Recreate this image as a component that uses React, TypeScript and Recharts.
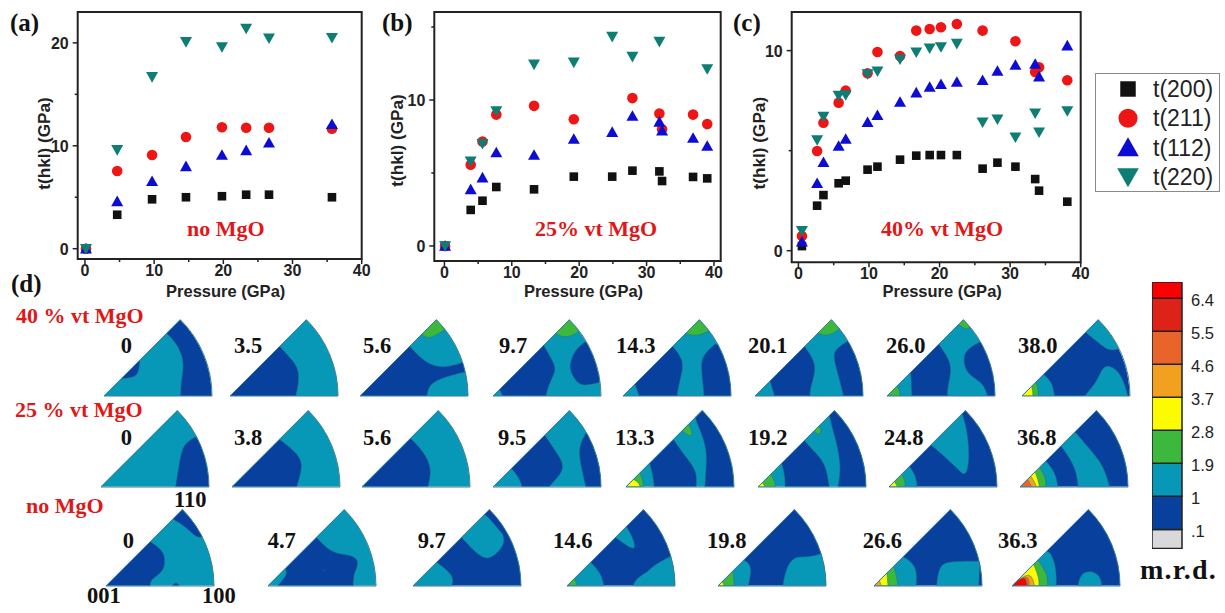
import React from "react";
import {
  ScatterChart, Scatter, XAxis, YAxis, ReferenceArea, Legend, PieChart, Pie, BarChart, Bar,
} from "recharts";

// ---------- panel data ----------
const seriesNames = ["t(200)", "t(211)", "t(112)", "t(220)"];
const pressureA = [0.15, 4.66, 9.7, 14.6, 19.8, 23.3, 26.6, 35.7];
const a200 = [0, 3.3, 4.8, 5.0, 5.1, 5.25, 5.25, 5.0];
const a211 = [0, 7.55, 9.1, 10.85, 11.8, 11.76, 11.76, 11.66];
const a112 = [0, 4.6, 6.55, 8.0, 9.1, 9.55, 10.3, 12.1];
const a220 = [0, 9.6, 16.7, 20.1, 19.6, 21.4, 20.45, 20.5];

const pressureB = [0.1, 3.9, 5.65, 7.7, 13.3, 19.2, 24.9, 27.9, 31.9, 32.3, 36.9, 39];
const b200 = [0, 2.47, 3.1, 4.04, 3.88, 4.75, 4.75, 5.16, 5.11, 4.45, 4.73, 4.63];
const b211 = [0, 5.57, 7.15, 9.0, 9.6, 8.68, null, 10.13, 9.08, 8.0, 9.0, 8.35];
const b112 = [0, 3.88, 4.68, 6.4, 6.23, 7.33, 7.8, 8.9, 8.5, 7.9, 7.4, 6.85];
const b220 = [0, 5.8, 7.0, 9.25, 12.44, 12.58, 14.34, 12.97, 14.0, null, null, 12.12];

const pressureC = [0.5, 2.65, 3.55, 5.7, 6.7, 9.8, 11.2, 14.4, 16.7, 18.6, 20.2, 22.45, 26.1, 28.2, 30.75, 33.55, 34.1, 38.1];
const c200 = [0.23, 2.25, 2.78, 3.37, 3.5, 4.05, 4.2, 4.55, 4.75, 4.78, 4.78, 4.78, 4.1, 4.4, 4.2, 3.58, 3.0, 2.45];
const c211 = [0.73, 4.98, 6.4, 7.4, 8.0, 8.87, 9.93, 9.73, 11.0, 11.08, 11.17, 11.33, 11.0, null, 10.47, 8.93, 9.17, 8.52];
const c112 = [0.45, 3.37, 4.42, 5.23, 5.58, 6.42, 6.77, 7.43, 7.9, 8.18, 8.32, 8.43, 8.52, 8.98, 9.28, 9.33, 8.7, 10.25];
const c220 = [1.0, 5.53, 6.7, 7.75, 7.78, 8.83, 8.97, 9.57, 9.92, 10.12, 10.18, 10.35, 6.42, 6.57, 5.67, 6.87, 5.92, 6.98];

// ---------- colour scale ----------
const D = "#07419d", L = "#0798b8", G = "#3cb83c", Y = "#fdfb00", O = "#f2a01f", E = "#e9642a", C = "#dd2318", R = "#fb0000", N = "#d9d9d9";
const scaleColors = [N, D, L, G, Y, O, E, C, R];
const scaleBands = [0.52, 0.9, 0.9, 0.9, 0.9, 0.9, 0.9, 0.9, 0.44];
const scaleTicks = [0.52, 1.42, 2.32, 3.22, 4.12, 5.02, 5.92, 6.82];
const scaleLabels = [".1", "1", "1.9", "2.8", "3.7", "4.6", "5.5", "6.4"];

// ---------- pole figures: [pressure, base colour, [colour, x,y, x,y ...] ...] (in % of radius) ----------
type Fig = { p: string; base: string; regions: (string | number)[][] };
const row40: Fig[] = [
  { p: "0", base: L, regions: [[D, 58,58, 66,50, 72,39, 74,27, 71,11, 71,0, 100,0, 100,75, 58,75], [D, 16,16, 25,17, 31,19, 33,28, 33,33]] },
  { p: "3.5", base: L, regions: [[D, 0,0, 46,46, 55,36, 63,27, 64,14, 61,0]] },
  { p: "5.6", base: L, regions: [[D, 0,0, 46,46, 68,23, 95,31, 100,30, 100,23, 69,15, 63,7, 62,0], [G, 57,57, 63,53, 70,56, 78,61, 78,75, 57,75]] },
  { p: "9.7", base: L, regions: [[D, 6,6, 47,47, 55,33, 59,24, 52,12, 49,0, 9,0], [D, 85,50, 75,42, 70,27, 74,18, 81,8, 100,13, 100,50], [G, 58,58, 67,53, 79,59, 79,75, 58,75]] },
  { p: "14.3", base: L, regions: [[D, 11,11, 46,46, 54,36, 56,27, 52,12, 50,0, 15,0], [D, 85,48, 74,38, 72,28, 74,12, 75,0, 100,0, 100,48], [G, 58,58, 68,55, 79,60, 79,75, 58,75]] },
  { p: "20.1", base: L, regions: [[D, 14,14, 46,46, 55,33, 56,22, 51,7, 51,0, 18,0], [D, 86,51, 75,44, 72,37, 77,20, 82,0, 100,0, 100,51], [G, 58,58, 68,55, 78,62, 78,75, 58,75]] },
  { p: "26.0", base: L, regions: [[D, 22,22, 48,48, 57,35, 60,24, 56,8, 56,0, 23,0], [G, 0,0, 9,9, 12,5, 12,0], [D, 86,50, 75,44, 70,36, 73,22, 82,16, 90,10, 93,0, 100,0, 100,50], [G, 66,66, 73,62, 78,64, 78,75, 66,75]] },
  { p: "38.0", base: D, regions: [[L, 59,59, 70,50, 81,41, 90,44, 90,75, 59,75], [L, 58,0, 70,14, 74,26, 81,29, 92,21, 98,0], [L, 0,0, 20,20, 28,13, 30,0], [G, 0,0, 13,13, 15,7, 15,0], [Y, 0,0, 9,9, 10,4, 10,0]] },
];
const row25: Fig[] = [
  { p: "0", base: L, regions: [[D, 87,46, 76,40, 73,25, 69,0, 100,0, 100,46]] },
  { p: "3.8", base: L, regions: [[D, 0,0, 44,44, 56,35, 65,25, 64,14, 60,0]] },
  { p: "5.6", base: L, regions: [[D, 0,0, 45,45, 57,33, 65,17, 61,0]] },
  { p: "9.5", base: L, regions: [[D, 17,17, 48,48, 58,33, 68,18, 56,5, 52,0, 27,0, 24,9], [D, 86,50, 79,37, 81,21, 86,0, 100,0, 100,50]] },
  { p: "13.3", base: L, regions: [[D, 22,22, 44,44, 55,28, 66,15, 65,0, 26,0, 25,10], [D, 63,65, 70,50, 75,33, 74,15, 73,0, 100,0, 100,75, 63,75], [G, 52,52, 60,46, 62,50, 58,58], [G, 0,0, 13,13, 16,5, 16,0], [Y, 0,0, 7,7, 12,4, 13,0]] },
  { p: "19.2", base: L, regions: [[D, 22,22, 43,43, 55,30, 63,20, 66,0, 25,0, 25,10], [D, 66,66, 70,50, 73,40, 77,18, 74,0, 100,0, 100,75, 66,75], [G, 52,52, 57,47, 59,54, 56,56], [G, 0,0, 12,12, 16,4, 16,0], [Y, 0,0, 4,4, 7,0]] },
  { p: "24.8", base: D, regions: [[L, 39,39, 64,17, 71,8, 75,27, 72,55, 67,70, 50,70, 39,50], [L, 0,0, 19,19, 25,10, 26,0], [G, 0,0, 12,12, 15,5, 15,0], [Y, 0,0, 5,5, 8,0]] },
  { p: "36.8", base: D, regions: [[L, 38,38, 51,51, 62,38, 77,21, 83,0, 54,0, 52,15, 46,27], [L, 0,0, 24,24, 33,13, 35,0], [G, 0,0, 18,18, 24,9, 24,0], [Y, 0,0, 14,14, 17,6, 18,0], [O, 0,0, 10,10, 14,4, 15,0], [E, 0,0, 7,7, 11,0]] },
];
const rowNone: Fig[] = [
  { p: "0", base: L, regions: [[D, 0,0, 41,41, 53,33, 55,23, 53,13, 41,6, 41,0], [D, 62,62, 75,54, 84,44, 90,46, 90,75, 62,75], [D, 61,0, 65,4, 68,0]] },
  { p: "4.7", base: L, regions: [[D, 16,16, 45,45, 57,32, 70,29, 79,28, 85,22, 79,11, 79,0, 9,0, 12,4, 18,11], [L, 51,14, 53,14, 52,15]] },
  { p: "9.7", base: D, regions: [[L, 0,0, 22,22, 38,10, 36,0], [L, 45,45, 65,23, 75,28, 80,33, 85,40, 83,48, 76,56, 69,65, 60,70, 45,60], [G, 0,0, 2,2, 3,0]] },
  { p: "14.6", base: D, regions: [[L, 45,45, 65,30, 61,45, 55,55], [L, 0,0, 22,22, 32,11, 34,0], [G, 0,0, 7,7, 10,0], [L, 61,0, 65,8, 75,13, 80,19, 95,27, 100,27, 100,0]] },
  { p: "19.8", base: D, regions: [[L, 0,0, 24,24, 32,19, 28,0], [G, 0,0, 14,14, 15,0], [Y, 0,0, 4,4, 6,0], [L, 60,0, 63,17, 71,28, 82,26, 96,30, 100,30, 100,0]] },
  { p: "26.6", base: D, regions: [[L, 0,0, 27,27, 40,19, 39,0], [G, 0,0, 18,18, 21,10, 22,0], [Y, 0,0, 12,12, 13,0], [O, 0,0, 5,5, 7,0], [L, 58,0, 60,18, 68,23, 98,23, 97,0]] },
  { p: "36.3", base: D, regions: [[L, 0,0, 32,32, 36,31, 41,17, 41,0], [G, 0,0, 24,24, 33,11, 33,0], [Y, 0,0, 20,20, 25,8, 25,0], [O, 0,0, 17,15, 21,0], [E, 0,0, 15,12, 16,0], [R, 0,0, 12,11, 14,0], [L, 61,0, 64,13, 76,14, 82,8, 83,0]] },
];

// ---------- layout ----------
const R_POLE = 108;
const H_POLE = 81;
const rows = [
  { figs: row40, baseY: 396, apex: [103.5, 230, 360, 492.7, 623, 755, 887, 1021.5], textY: 353, textX: [120.7, 234, 363, 499, 616, 748, 886, 1018] },
  { figs: row25, baseY: 486.5, apex: [100.7, 231.7, 361.7, 493, 625.7, 758, 889, 1020], textY: 445, textX: [120.7, 234, 363, 498, 615, 748, 884, 1017] },
  { figs: rowNone, baseY: 585.5, apex: [106, 267.7, 413, 567, 718, 874, 1012], textY: 548, textX: [122.7, 267.7, 417.7, 553, 707, 862.7, 998] },
];
const markerColors = ["#111111", "#ee1515", "#0c0cd2", "#0e7d74"];

const serif = "'Liberation Serif', serif";
const sans = "'Liberation Sans', sans-serif";

const toPoints = (xs: number[], ys: (number | null)[]) =>
  xs.map((x, i) => ({ x, y: ys[i] })).filter((d) => d.y !== null);

function Mark({ kind, cx, cy, fill, s = 1 }: any) {
  if (kind === 0) return <rect x={cx - 4.3 * s} y={cy - 4.3 * s} width={8.6 * s} height={8.6 * s} fill={fill} />;
  if (kind === 1) return <circle cx={cx} cy={cy} r={5.3 * s} fill={fill} />;
  if (kind === 2) return <polygon points={`${cx - 6 * s},${cy + 4.8 * s} ${cx + 6 * s},${cy + 4.8 * s} ${cx},${cy - 5.8 * s}`} fill={fill} />;
  return <polygon points={`${cx - 6 * s},${cy - 4.8 * s} ${cx + 6 * s},${cy - 4.8 * s} ${cx},${cy + 5.8 * s}`} fill={fill} />;
}

function XTick({ x, y, payload }: any) {
  const major = payload.value % 10 === 0;
  return (
    <g>
      <line x1={x} x2={x} y1={y} y2={y + (major ? 5 : 3)} stroke="#222" strokeWidth={1.5} />
      {major && (
        <text x={x} y={y + 17} textAnchor="middle" fontFamily={sans} fontWeight="bold" fontSize={16} fill="#222">
          {payload.value}
        </text>
      )}
    </g>
  );
}
function YTick({ x, y, payload }: any) {
  const major = payload.value % 10 === 0;
  return (
    <g>
      <line x1={x - (major ? 5 : 3)} x2={x} y1={y} y2={y} stroke="#222" strokeWidth={1.5} />
      {major && (
        <text x={x - 9} y={y + 6} textAnchor="end" fontFamily={sans} fontWeight="bold" fontSize={16} fill="#222">
          {payload.value}
        </text>
      )}
    </g>
  );
}

function LegendBox({ payload }: any) {
  return (
    <div style={{ width: 125, height: 119, border: "1.5px solid #8a8a8a", boxSizing: "border-box", background: "#fff" }}>
      <svg width={122} height={116}>
        {(payload || []).map((e: any, i: number) => (
          <g key={e.value}>
            <Mark kind={i} cx={32} cy={15 + i * 29.3} fill={e.color} s={1.8} />
            <text x={57} y={23 + i * 29.3} fontFamily={sans} fontSize={23} fill="#222">{e.value}</text>
          </g>
        ))}
      </svg>
    </div>
  );
}

function Panel({ left, width, frame, xDomain, yDomain, yTicks, xs, series, xLabelDx, yLabelDy, yLabelOff, legend }: any) {
  const xTicks = [0, 5, 10, 15, 20, 25, 30, 35, 40];
  return (
    <div style={{ position: "absolute", left, top: 0 }}>
      <ScatterChart width={width} height={300} margin={{ top: frame.top, right: width - frame.right, bottom: 0, left: 0 }}>
        <XAxis
          type="number" dataKey="x" domain={xDomain} ticks={xTicks} interval={0} height={300 - frame.bottom}
          tickLine={false} axisLine={false} tickSize={0} tickMargin={0} tick={<XTick />}
          label={{ value: "Pressure (GPa)", position: "insideBottom", offset: 3, dx: xLabelDx, fontFamily: sans, fontWeight: "bold", fontSize: 16.5, fill: "#222" }}
        />
        <YAxis
          type="number" dataKey="y" domain={yDomain} ticks={yTicks} interval={0} width={frame.left}
          tickLine={false} axisLine={false} tickSize={0} tickMargin={0} tick={<YTick />}
          label={{ value: "t(hkl) (GPa)", angle: -90, position: "insideLeft", offset: yLabelOff, dy: yLabelDy, fontFamily: sans, fontWeight: "bold", fontSize: 17.2, fill: "#222", textAnchor: "middle" }}
        />
        <ReferenceArea x1={xDomain[0]} x2={xDomain[1]} y1={yDomain[0]} y2={yDomain[1]} fill="none" stroke="#222" strokeWidth={2} fillOpacity={0} ifOverflow="visible" />
        {series.map((ys: (number | null)[], i: number) => (
          <Scatter
            key={seriesNames[i]} name={seriesNames[i]} data={toPoints(xs, ys)} fill={markerColors[i]} isAnimationActive={false}
            shape={(p: any) => <Mark kind={i} cx={p.cx} cy={p.cy} fill={markerColors[i]} />}
          />
        ))}
        {legend && (
          <Legend layout="vertical" align="center" verticalAlign="middle" itemSorter={null} content={<LegendBox />}
            wrapperStyle={{ left: 350, top: 72.5, width: 125, height: 119 }} />
        )}
      </ScatterChart>
    </div>
  );
}

const Nothing = () => <g />;

// The smooth closed contour passes exactly through a vertex only if it is repeated: vertices on the wedge's edges stay sharp.
const onEdge = (x: number, y: number) => y === 0 || x === y || x === 100 || y === 75 || x * x + y * y >= 9000;

function Pole({ fig, x, baseY }: { fig: Fig; x: number; baseY: number }) {
  const Rp = R_POLE, H = H_POLE, k = Rp * Math.SQRT1_2;
  const clip = `path("M0 ${H} L${Rp} ${H} A${Rp} ${Rp} 0 0 0 ${k} ${H - k} Z")`;
  const polys = [[fig.base, 0,0, 100,0, 100,75, 0,75], ...fig.regions];
  return (
    <>
      <div style={{ position: "absolute", left: x, top: baseY - H, width: Rp, height: H, clipPath: clip }}>
        <ScatterChart width={Rp} height={H} margin={{ top: 0, right: 0, bottom: 0, left: 0 }}>
          <XAxis type="number" dataKey="x" domain={[0, 100]} hide />
          <YAxis type="number" dataKey="y" domain={[0, 75]} hide />
          {polys.map((r, i) => {
            const pts: { x: number; y: number }[] = [];
            for (let j = 1; j < r.length; j += 2) {
              const px = r[j] as number, py = r[j + 1] as number;
              const times = onEdge(px, py) ? 3 : 1;
              for (let t = 0; t < times; t++) pts.push({ x: px, y: py });
            }
            return (
              <Scatter key={i} data={pts} isAnimationActive={false} shape={Nothing} fill={r[0] as string}
                line={{ fill: r[0] as string, stroke: "#2b6f88", strokeWidth: i === 0 ? 0 : 0.5 }} lineJointType="basisClosed" />
            );
          })}
        </ScatterChart>
      </div>
      <div style={{ position: "absolute", left: x - 2, top: baseY - H - 2 }}>
        <PieChart width={Rp + 6} height={H + 6} margin={{ top: 0, right: 0, bottom: 0, left: 0 }}>
          <Pie data={[{ v: 1 }]} dataKey="v" cx={2} cy={H + 2} innerRadius={0} outerRadius={Rp} startAngle={0} endAngle={45}
            fill="none" stroke="#3a7f95" strokeWidth={1} isAnimationActive={false} label={false} labelLine={false} />
        </PieChart>
      </div>
    </>
  );
}

function ColorBar() {
  const row: any = { name: "m.r.d." };
  scaleBands.forEach((v, i) => (row["b" + i] = v));
  return (
    <div style={{ position: "absolute", left: 1152, top: 282 }}>
      <BarChart width={73} height={266.5} data={[row]} margin={{ top: 0, right: 0, bottom: 0, left: 0 }} barCategoryGap={0}>
        <XAxis dataKey="name" hide />
        <YAxis
          orientation="right" width={43} type="number" domain={[0, 7.26]} ticks={scaleTicks} interval={0}
          tickFormatter={(v: number) => scaleLabels[scaleTicks.indexOf(v)]}
          tickLine={false} axisLine={false} tickMargin={3}
          tick={{ fontFamily: sans, fontSize: 16.5, fill: "#222", dy: 2 }}
        />
        {scaleColors.map((c, i) => (
          <Bar key={i} dataKey={"b" + i} stackId="s" fill={c} stroke="#222" strokeWidth={1.5} isAnimationActive={false} />
        ))}
      </BarChart>
    </div>
  );
}

export default function App() {
  return (
    <div style={{ position: "absolute", left: 0, top: 0, width: 1225, height: 613, overflow: "hidden", background: "#fff" }}>
      <Panel left={0} width={375} frame={{ top: 12, bottom: 259, left: 77.7, right: 361.7 }} xDomain={[-1.05, 40]} yDomain={[-1, 23]}
        yTicks={[0, 5, 10, 15, 20]} xs={pressureA} series={[a200, a211, a112, a220]} xLabelDx={6} yLabelDy={8} yLabelOff={44} />
      <Panel left={375} width={375} frame={{ top: 12, bottom: 261, left: 59.3, right: 345.7 }} xDomain={[-1.5, 41]} yDomain={[-1.03, 16.03]}
        yTicks={[0, 5, 10, 15]} xs={pressureB} series={[b200, b211, b112, b220]} xLabelDx={6} yLabelDy={4} yLabelOff={22} />
      <Panel left={745} width={480} frame={{ top: 12, bottom: 262.3, left: 46.7, right: 335.7 }} xDomain={[-0.95, 40]} yDomain={[-0.58, 11.93]}
        yTicks={[0, 5, 10]} xs={pressureC} series={[c200, c211, c112, c220]} xLabelDx={6} yLabelDy={6} yLabelOff={14} legend />

      {rows.map((row) => row.figs.map((fig, i) => <Pole key={row.baseY + "-" + i} fig={fig} x={row.apex[i]} baseY={row.baseY} />))}
      <ColorBar />

      <svg width={1225} height={613} style={{ position: "absolute", left: 0, top: 0, pointerEvents: "none" }}>
        <g fontFamily={serif} fontWeight="bold" fontSize={25} fill="#111">
          <text x={10} y={31}>(a)</text>
          <text x={382} y={31}>(b)</text>
          <text x={733} y={31}>(c)</text>
          <text x={11} y={292}>(d)</text>
        </g>
        <g fontFamily={serif} fontWeight="bold" fontSize={22} fill="#e01818">
          <text x={187} y={236}>no MgO</text>
          <text x={535} y={236}>25% vt MgO</text>
          <text x={881} y={236}>40% vt MgO</text>
          <text x={16} y={323}>40 % vt MgO</text>
          <text x={15} y={417}>25 % vt MgO</text>
          <text x={26} y={513}>no MgO</text>
        </g>
        <g fontFamily={serif} fontWeight="bold" fontSize={22.5} fill="#111">
          {rows.map((row) => row.figs.map((fig, i) => (
            <text key={row.textY + "-" + i} x={row.textX[i]} y={row.textY}>{fig.p}</text>
          )))}
          <text x={174} y={507}>110</text>
          <text x={87} y={603}>001</text>
          <text x={202} y={603}>100</text>
        </g>
        <text x={1140} y={579} fontFamily={serif} fontWeight="bold" fontSize={28} letterSpacing={1.2} fill="#111">m.r.d.</text>
      </svg>
    </div>
  );
}
